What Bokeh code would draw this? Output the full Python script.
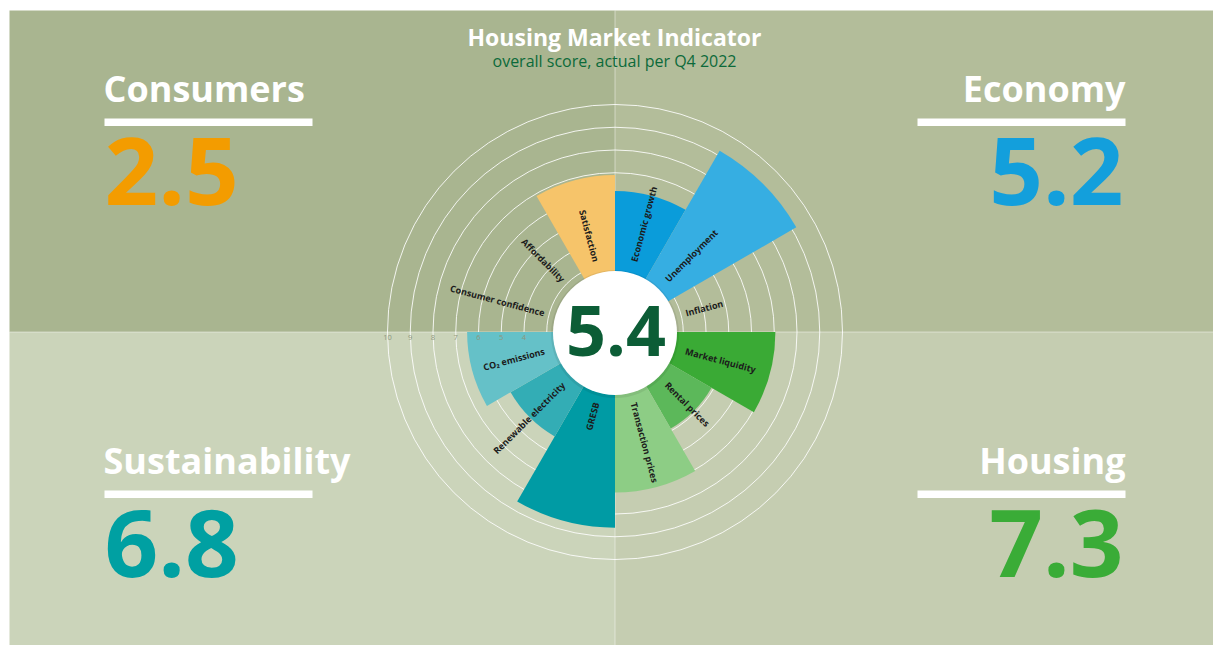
import numpy as np
from bokeh.plotting import figure
from bokeh.models import Range1d, ColumnDataSource
from bokeh.core.properties import value
from bokeh.embed import file_html
from bokeh.resources import INLINE

# ---------------- data ----------------
title = "Housing Market Indicator"
subtitle = "overall score, actual per Q4 2022"
overall_score = 5.4

categories = ["Consumers", "Economy", "Sustainability", "Housing"]
category_scores = [2.5, 5.2, 6.8, 7.3]

indicators = ["Economic growth", "Unemployment", "Inflation",
              "Market liquidity", "Rental prices", "Transaction prices",
              "GRESB", "Renewable electricity", "CO\u2082 emissions",
              "Consumer confidence", "Affordability", "Satisfaction"]
indicator_scores = [6.2, 9.2, 0.2,
                    7.05, 4.9, 7.05,
                    8.6, 5.3, 6.5,
                    0.3, 0.3, 6.9]
scale_ticks = [10, 9, 8, 7, 6, 5, 4]
grid_rings = [3, 4, 5, 6, 7, 8, 9, 10]

# ---------------- style ----------------
indicator_colors = ["#0a9cda", "#36aee2", "#7fc8ea",
                    "#3aaa35", "#5cb85a", "#8dcd85",
                    "#009ba4", "#33adb5", "#65c1c8",
                    "#f3a93a", "#f4b94f", "#f6c46a"]
category_colors = ["#f39c00", "#139fdc", "#00a0a2", "#3aac37"]
bg_colors = ["#a9b590", "#b3bd9a", "#cbd4ba", "#c5cdb1"]
dark_green = "#0c5d36"
FONT = value("Open Sans")
BASE_FIX = 0.40            # alphabetic-baseline correction (em)

W, H = 1213, 645
CX, CY = 614.5, 331.5      # polar centre in page pixels
S = 22.75                  # pixels per score unit


def dx(px):
    return (px - CX) / S


def dy(py):
    return (CY - py) / S


def base(py, size):
    return dy(py - BASE_FIX * size)


p = figure(width=W, height=H, x_range=Range1d(dx(0), dx(W)),
           y_range=Range1d(dy(H), dy(0)), output_backend="svg",
           toolbar_location=None, min_border=0, x_axis_location=None,
           y_axis_location=None, background_fill_color="white",
           border_fill_color="white", outline_line_color=None)
p.grid.visible = False

# quadrant backgrounds
L, R, T, B = 9, W, 10, H
p.quad(left=[dx(L), dx(CX), dx(L), dx(CX)], right=[dx(CX), dx(R), dx(CX), dx(R)],
       top=[dy(T), dy(T), dy(CY), dy(CY)], bottom=[dy(CY), dy(CY), dy(B), dy(B)],
       fill_color=bg_colors, line_color=None)
p.segment(x0=[dx(CX), dx(L)], y0=[dy(T), dy(CY)], x1=[dx(CX), dx(R)], y1=[dy(B), dy(CY)],
          line_color="white", line_alpha=0.45, line_width=1)

# grid rings
p.circle(x=[0] * len(grid_rings), y=[0] * len(grid_rings), radius=grid_rings,
         fill_color=None, line_color="white", line_alpha=0.85, line_width=1)

# wedges (compass angles, clockwise from north)
n = len(indicators)
step = 360 / n
starts = [np.radians(90 - step * (i + 1)) for i in range(n)]
ends = [np.radians(90 - step * i) for i in range(n)]
p.wedge(x=[0] * n, y=[0] * n, radius=indicator_scores, start_angle=starts,
        end_angle=ends, direction="anticlock", fill_color=indicator_colors,
        line_color=None)

# centre circle
p.circle(x=[0], y=[dy(CY + 2)], radius=64 / S, fill_color="black", fill_alpha=0.07, line_color=None)
p.circle(x=[0], y=[dy(CY + 1)], radius=62 / S, fill_color="white", line_color=None)
p.text(x=[dx(CX + 1)], y=[base(358, 70)], text=[f"{overall_score:.1f}"], text_font=FONT,
       text_font_style="bold", text_font_size="70px", text_color=dark_green,
       text_align="center", text_baseline="alphabetic")

# indicator labels
r_lab = 73 / S
lx, ly, la, lal = [], [], [], []
for i in range(n):
    phi = step * i + step / 2
    rad = np.radians(phi)
    lx.append(r_lab * np.sin(rad))
    ly.append(r_lab * np.cos(rad))
    if phi < 180:
        la.append(np.radians(90 - phi))
        lal.append("left")
    else:
        la.append(np.radians(270 - phi))
        lal.append("right")
src = ColumnDataSource(dict(x=lx, y=ly, angle=la, align=lal, text=indicators))
p.text(x="x", y="y", text="text", angle="angle", text_align="align", source=src,
       text_font=FONT, text_font_style="bold", text_font_size="9px",
       text_color="#1b1b1b", text_baseline="middle")

# scale tick labels
p.text(x=[-v for v in scale_ticks], y=[dy(CY + 5)] * len(scale_ticks),
       text=[str(v) for v in scale_ticks], text_font=FONT, text_font_size="7.5px",
       text_color="#8d967d", text_align="center", text_baseline="middle")

# title
p.text(x=[dx(614)], y=[base(46, 23)], text=[title], text_font=FONT, text_font_style="bold",
       text_font_size="23px", text_color="white", text_align="center",
       text_baseline="alphabetic")
p.text(x=[dx(614)], y=[base(66.5, 16)], text=[subtitle], text_font=FONT,
       text_font_size="16px", text_color="#0c6a3a", text_align="center",
       text_baseline="alphabetic")

# category blocks
name_x = [103, 1125, 103, 1125]
name_y = [102, 102, 474, 474]
aligns = ["left", "right", "left", "right"]
bar_l = [104, 917, 104, 917]
bar_r = [312, 1125, 312, 1125]
bar_t = [118, 118, 490, 490]
num_x = [104, 1123, 104, 1123]
num_y = [209, 209, 581, 581]
p.text(x=[dx(v) for v in name_x], y=[base(v, 36) for v in name_y], text=categories,
       text_align=aligns, text_font=FONT, text_font_style="bold",
       text_font_size="36px", text_color="white", text_baseline="alphabetic")
p.quad(left=[dx(v) for v in bar_l], right=[dx(v) for v in bar_r],
       top=[dy(v) for v in bar_t], bottom=[dy(v + 7.5) for v in bar_t],
       fill_color="white", line_color=None)
p.text(x=[dx(v) for v in num_x], y=[base(v, 94) for v in num_y],
       text=[f"{s:.1f}" for s in category_scores], text_align=aligns,
       text_font=FONT, text_font_style="bold", text_font_size="94px",
       text_color=category_colors, text_baseline="alphabetic")

open("out.html", "w").write(file_html(p, INLINE))
